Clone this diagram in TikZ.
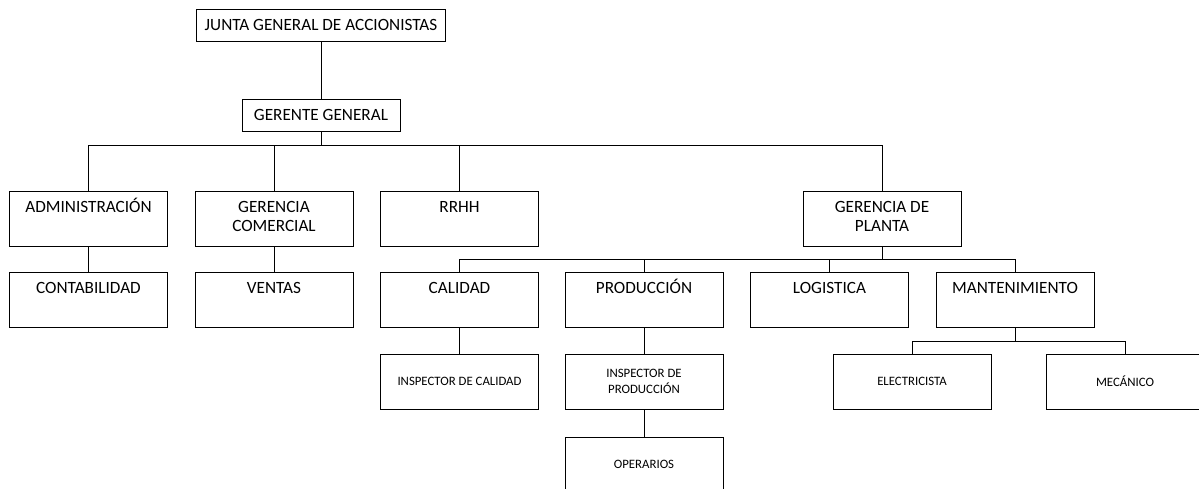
\documentclass[tikz,border=0pt]{standalone}
\usepackage{fontspec}
\setmainfont{Carlito}
\begin{document}
\begin{tikzpicture}[x=0.5pt,y=-0.5pt,
  line width=0.5pt,
  box/.style={draw, rectangle, inner sep=0pt, minimum width=79pt, font=\fontsize{8.6}{9.4}\selectfont, align=center},
  topbox/.style={box, minimum height=27.5pt},
  smallbox/.style={box, minimum height=27.5pt, font=\fontsize{6.4}{7.8}\selectfont},
  toptxt/.style={anchor=north, inner sep=0pt, yshift=-3.05pt, font=\fontsize{8.6}{9.4}\selectfont, align=center,
    execute at begin node=\rule{0pt}{7.6pt}},
  toptxtb/.style={toptxt, yshift=-2pt},
  wire/.style={draw, line width=0.5pt}]
\useasboundingbox (0,0) rectangle (1199,488);
\clip (0,0) rectangle (1199,488);

% top levels
\node[box, minimum width=124.5pt, minimum height=16pt] (junta) at (321,25) {JUNTA GENERAL DE ACCIONISTAS};
\node[box, minimum height=16pt] (gerente) at (321,115) {GERENTE GENERAL};

% second row
\node[topbox, label={[toptxt]north:ADMINISTRACIÓN}] (adm) at (88.5,218.5) {};
\node[topbox, label={[toptxtb]north:GERENCIA\\COMERCIAL}] (gcom) at (274,218.5) {};
\node[topbox, label={[toptxt]north:RRHH}] (rrhh) at (459.5,218.5) {};
\node[topbox, label={[toptxtb]north:GERENCIA DE\\PLANTA}] (gplanta) at (882,218.5) {};

% third row
\node[topbox, label={[toptxt]north:CONTABILIDAD}] (cont) at (88.5,300) {};
\node[topbox, label={[toptxt]north:VENTAS}] (ventas) at (274,300) {};
\node[topbox, label={[toptxt]north:CALIDAD}] (calidad) at (459.5,300) {};
\node[topbox, label={[toptxt]north:PRODUCCIÓN}] (prod) at (644,300) {};
\node[topbox, label={[toptxt]north:LOGISTICA}] (logis) at (829.5,300) {};
\node[topbox, label={[toptxt]north:MANTENIMIENTO}] (mant) at (1015,300) {};

% fourth row
\node[smallbox] (inscal) at (459.5,381.5) {INSPECTOR DE CALIDAD};
\node[smallbox] (insprod) at (644,381.5) {INSPECTOR DE\\PRODUCCIÓN};
\node[smallbox] (elec) at (912,381.5) {ELECTRICISTA};
\node[smallbox] (mec) at (1125,381.5) {MECÁNICO};

% fifth row
\node[smallbox] (oper) at (644,464.5) {OPERARIOS};

% connectors
\draw[wire] (junta.south) -- (gerente.north);
\coordinate (bus1) at (321,145);
\draw[wire] (gerente.south) -- (bus1);
\draw[wire] (adm.north) |- (bus1);
\draw[wire] (gcom.north) -- (gcom.north |- bus1);
\draw[wire] (rrhh.north) -- (rrhh.north |- bus1);
\draw[wire] (gplanta.north) |- (bus1);

\draw[wire] (adm) -- (cont);
\draw[wire] (gcom) -- (ventas);

\coordinate (bus2) at (882,259);
\draw[wire] (gplanta.south) -- (bus2);
\draw[wire] (calidad.north) |- (bus2);
\draw[wire] (prod.north) -- (prod.north |- bus2);
\draw[wire] (logis.north) -- (logis.north |- bus2);
\draw[wire] (mant.north) |- (bus2);

\draw[wire] (calidad) -- (inscal);
\draw[wire] (prod) -- (insprod);
\draw[wire] (insprod) -- (oper);

\coordinate (bus3) at (1015,341.5);
\draw[wire] (mant.south) -- (bus3);
\draw[wire] (elec.north) |- (bus3);
\draw[wire] (mec.north) |- (bus3);
\end{tikzpicture}
\end{document}
